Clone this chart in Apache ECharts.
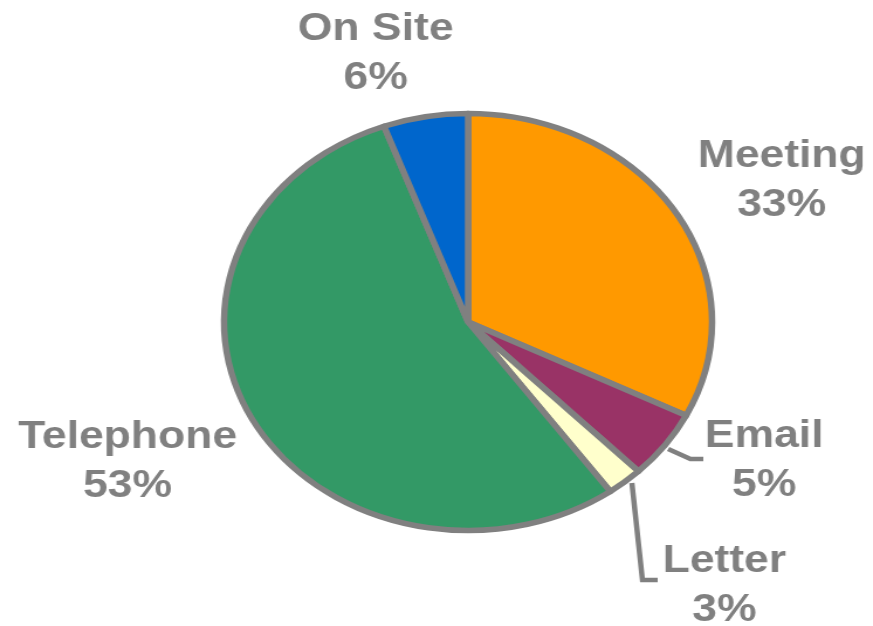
<!DOCTYPE html>
<html>
<head>
<meta charset="utf-8">
<script src="https://cdn.jsdelivr.net/npm/echarts@6/dist/echarts.min.js"></script>
<style>
html,body{margin:0;padding:0;background:#fff;overflow:hidden;}
#wrap{width:873px;height:626px;overflow:hidden;position:relative;}
#chart{width:746px;height:626px;transform:scaleX(1.1702);transform-origin:0 0;}
</style>
</head>
<body>
<div id="wrap"><div id="chart"></div></div>
<script>
// Data
const categories = ['Meeting', 'Email', 'Letter', 'Telephone', 'On Site'];
const values = [32.4, 5.3, 2.4, 54.3, 5.6];      // slice sizes
const percentLabels = ['33%', '5%', '3%', '53%', '6%']; // label text as printed
const colors = ['#FF9900', '#993366', '#FFFFCC', '#339966', '#0066CC'];

// Label layout (unscaled chart coordinates)
const labelAt = [
  {x: 668, y: 181, line: null},
  {x: 653, y: 461, line: [[571, 449], [590, 459], [601, 459]]},
  {x: 619, y: 586, line: [[540, 483], [549, 580], [562, 580]]},
  {x: 109, y: 462, line: null},
  {x: 321, y: 54, line: null}
];

const chart = echarts.init(document.getElementById('chart'), null, {renderer: 'canvas'});
chart.setOption({
  animation: false,
  series: [{
    type: 'pie',
    center: [400, 322],
    radius: [0, 208.5],
    startAngle: 90,
    clockwise: true,
    avoidLabelOverlap: false,
    itemStyle: {borderColor: '#808080', borderWidth: 5.5},
    label: {
      show: true,
      position: 'outside',
      formatter: function (p) { return p.name + '\n' + percentLabels[p.dataIndex]; },
      fontFamily: '"Liberation Sans", Arial, sans-serif',
      fontWeight: 'bold',
      fontSize: 38,
      lineHeight: 49,
      color: '#808080'
    },
    labelLine: {show: true, lineStyle: {color: '#808080', width: 4.5}},
    labelLayout: function (p) {
      const a = labelAt[p.dataIndex];
      const r = {x: a.x, y: a.y, align: 'center', verticalAlign: 'middle'};
      if (a.line) r.labelLinePoints = a.line;
      return r;
    },
    emphasis: {disabled: true},
    data: categories.map((c, i) => ({
      name: c,
      value: values[i],
      itemStyle: {color: colors[i]},
      labelLine: {show: !!labelAt[i].line}
    }))
  }]
});
</script>
</body>
</html>
